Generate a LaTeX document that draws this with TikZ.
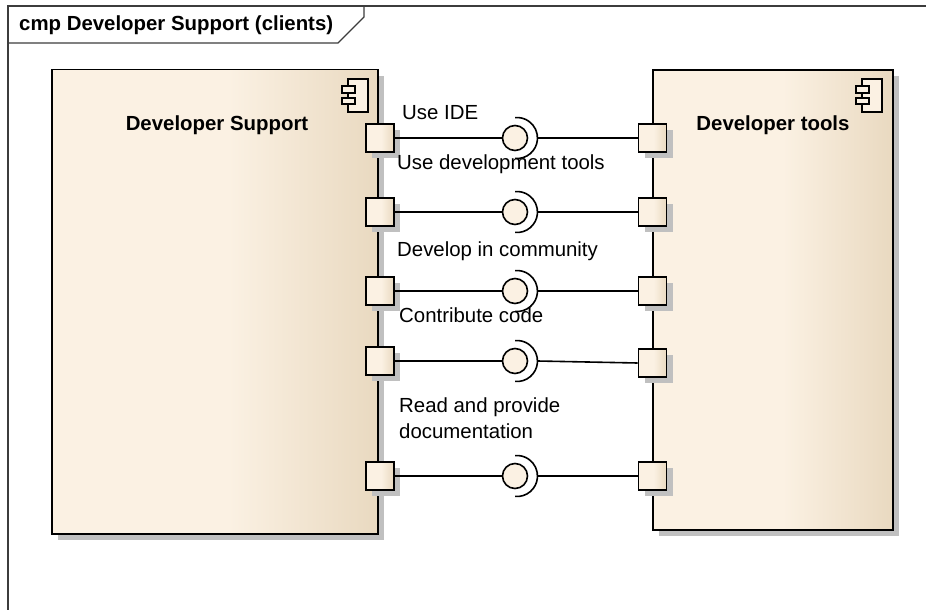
\documentclass[tikz,border=0pt]{standalone}
\usepackage{fontspec}
\setmainfont{Liberation Sans}
\usetikzlibrary{shadows}

\definecolor{cream}{RGB}{251,241,227}
\definecolor{tan}{RGB}{233,217,192}
\definecolor{shadowgray}{RGB}{192,192,192}
\definecolor{framegray}{RGB}{60,60,60}

% cream on the left half, fading to tan towards the right edge
\pgfdeclarehorizontalshading{compshade}{100bp}{%
  color(0bp)=(cream); color(25bp)=(cream); color(52bp)=(cream);
  color(75bp)=(tan); color(100bp)=(tan)}

\tikzset{
  umlshadow/.style={drop shadow={shadow xshift=6pt, shadow yshift=-6pt,
      fill=shadowgray, opacity=1}},
  component/.style={draw=black, line width=1.8pt, shading=compshade,
      rectangle, inner sep=0pt, umlshadow},
  port/.style={draw=black, line width=1.8pt, shading=compshade, rectangle,
      minimum width=28pt, minimum height=28pt, inner sep=0pt, umlshadow},
  iface/.style={draw=black, line width=1.6pt, fill=cream, circle,
      minimum size=25pt, inner sep=0pt},
  socket/.style={draw=black, line width=1.6pt},
  wire/.style={draw=black, line width=1.6pt},
  compname/.style={font=\fontsize{20.4}{24}\selectfont\bfseries, anchor=base},
  label/.style={font=\fontsize{20.4}{26}\selectfont, anchor=base west,
      inner sep=0pt, align=left},
  icon/.style={draw=black, line width=1.5pt, fill=cream},
  frameline/.style={draw=framegray, line width=1.3pt}
}

\begin{document}
\begin{tikzpicture}[x=1pt, y=-1pt]
\useasboundingbox (0,0) rectangle (926,610);

% diagram frame with its name tab
\draw[frameline] (8,610) -- (8,6) -- (926,6);
\draw[frameline] (8,43) -- (338,43) -- (364,17) -- (364,6);
\node[font=\fontsize{20.4}{24}\selectfont\bfseries, anchor=base west, inner sep=0pt]
  (title) at (19,31) {cmp Developer Support (clients)};

% components
\node[component, minimum width=326pt, minimum height=464.5pt] (ds) at (215,301.75) {};
\node[component, minimum width=240pt, minimum height=460pt] (dt) at (773,300) {};
\node[compname] (dsname) at (217,130) {Developer Support};
\node[compname] (dtname) at (773,130) {Developer tools};

% component stereotype icons
\foreach \dx in {0,514} {
  \begin{scope}[xshift=\dx]
    \draw[icon] (348,79) rectangle (368,112);
    \draw[icon] (342,86) rectangle (355,93);
    \draw[icon] (342,98) rectangle (355,104);
  \end{scope}
}

% ports, provided interfaces and required sockets
\foreach \i/\yl/\yr in {1/138/138, 2/212/212, 3/291/291, 4/361/363, 5/476/476} {
  \node[port] (lp\i) at (380,\yl) {};
  \node[port] (rp\i) at (652.5,\yr) {};
  \node[iface] (ball\i) at (515,\yl) {};
  \draw[socket] (517,\yl) ++(95:20.5) arc (95:-95:20.5);
  \coordinate (cup\i) at (537.5,\yl);
  \draw[wire] (lp\i.east) -- (ball\i.west);
  \draw[wire] (cup\i) -- (rp\i.west);
}

% connector labels
\node[label] (l1) at (402,119) {Use IDE};
\node[label] (l2) at (397,169) {Use development tools};
\node[label] (l3) at (397,256) {Develop in community};
\node[label] (l4) at (399,322) {Contribute code};
\node[label, anchor=north west] (l5) at (399,398) {Read and provide\\documentation};

\end{tikzpicture}
\end{document}
